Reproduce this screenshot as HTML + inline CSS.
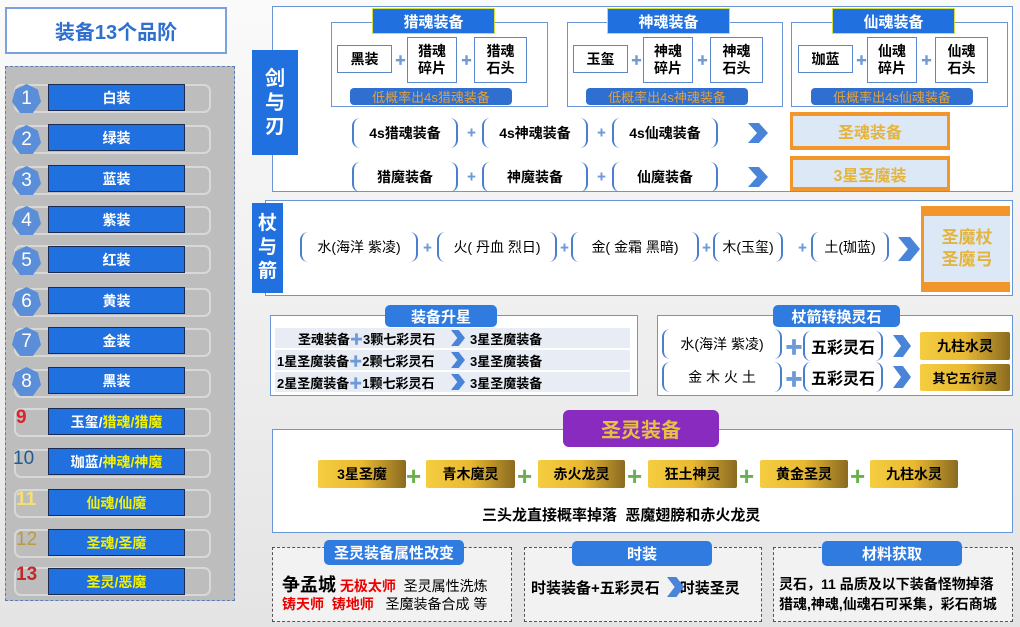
<!DOCTYPE html>
<html><head><meta charset="utf-8"><style>
*{margin:0;padding:0;box-sizing:border-box}
body{width:1020px;height:627px;position:relative;overflow:hidden;font-family:"Liberation Sans","Noto Sans CJK SC",sans-serif;background:linear-gradient(#fafafa,#e4e4e4)}
.a{position:absolute}
.c{display:flex;align-items:center;justify-content:center;text-align:center}
.bl{background:#2170e0;color:#fff;font-weight:bold}
.wb{background:#fff;border:1px solid #6a96d8}
.row{position:absolute;left:14px;width:197px;height:29px;border:2px solid #d8d8d8;border-radius:7px}
.bar{position:absolute;left:48px;width:137px;height:27px;background:#2170e0;border:1.5px solid #1a2a50;color:#fff;font-weight:bold;font-size:14px;display:flex;align-items:center;justify-content:center}
.hex{position:absolute;left:12px;width:29px;height:29px;background:#5b8ed8;color:#fff;font-size:19px;display:flex;align-items:center;justify-content:center;clip-path:polygon(50% 0,89% 19%,100% 61%,72% 100%,28% 100%,0 61%,11% 19%)}
.num{position:absolute;left:16px;font-size:19px;font-weight:bold}
.y{color:#f2f200}
.it{position:absolute;background:#fff;border:1px solid #5a86cc;font-size:14px;font-weight:bold;display:flex;align-items:center;justify-content:center;text-align:center;line-height:17px}
.pl{position:absolute;color:#6e9ad8;font-size:11px;font-weight:bold}
.br{position:absolute;height:30px;border-left:2px solid #4a7fd0;border-right:2px solid #4a7fd0;border-radius:8px;font-size:14px;display:flex;align-items:center;justify-content:center;font-weight:bold}
.chev{position:absolute;width:20px;height:20px;background:#4a84d8;clip-path:polygon(0 0,55% 0,100% 50%,55% 100%,0 100%,45% 50%)}
.gold{position:absolute;height:28px;background:linear-gradient(90deg,#f5cd40,#e9b932 50%,#8a6a20);font-size:14px;font-weight:bold;display:flex;align-items:center;justify-content:center;border-radius:2px}
.gp{position:absolute;color:#6ab04c;font-size:26px;font-weight:bold;line-height:20px}
.hd{position:absolute;background:#2f7be0;color:#fff;font-weight:bold;font-size:15px;display:flex;align-items:center;justify-content:center;border-radius:5px}
.dash{position:absolute;border:1.5px dashed #555;background:#f2f2f2}
</style></head><body>

<div class="a c" style="left:5px;top:7px;width:222px;height:47px;background:#fff;border:2px solid #7aa0e0;color:#2f6fd0;font-size:20px;font-weight:bold">装备13个品阶</div>
<div class="a" style="left:5px;top:66px;width:230px;height:535px;background:#bdbdbd;border:1px dashed #5a7ab8"></div>

<div class="row" style="top:84px"></div><div class="bar" style="top:84px">白装</div><div class="hex" style="top:84px">1</div>
<div class="row" style="top:125px"></div><div class="bar" style="top:124px">绿装</div><div class="hex" style="top:125px">2</div>
<div class="row" style="top:166px"></div><div class="bar" style="top:165px">蓝装</div><div class="hex" style="top:166px">3</div>
<div class="row" style="top:206px"></div><div class="bar" style="top:206px">紫装</div><div class="hex" style="top:206px">4</div>
<div class="row" style="top:245px"></div><div class="bar" style="top:246px">红装</div><div class="hex" style="top:246px">5</div>
<div class="row" style="top:288px"></div><div class="bar" style="top:287px">黄装</div><div class="hex" style="top:287px">6</div>
<div class="row" style="top:328px"></div><div class="bar" style="top:327px">金装</div><div class="hex" style="top:327px">7</div>
<div class="row" style="top:369px"></div><div class="bar" style="top:367px">黑装</div><div class="hex" style="top:367px">8</div>
<div class="row" style="top:408px"></div><div class="bar" style="top:408px">玉玺/<span class="y">猎魂/猎魔</span></div><div class="num" style="top:407px;color:#e0202a">9</div>
<div class="row" style="top:449px"></div><div class="bar" style="top:448px">珈蓝/<span class="y">神魂/神魔</span></div><div class="num" style="top:448px;color:#1f5a90;left:13px;font-weight:normal">10</div>
<div class="row" style="top:489px"></div><div class="bar" style="top:489px"><span class="y">仙魂/仙魔</span></div><div class="num" style="top:489px;color:#f8e070">11</div>
<div class="row" style="top:529px"></div><div class="bar" style="top:529px"><span class="y">圣魂/圣魔</span></div><div class="num" style="top:529px;color:#b89a40;font-weight:normal">12</div>
<div class="row" style="top:567px"></div><div class="bar" style="top:568px"><span class="y">圣灵/恶魔</span></div><div class="num" style="top:564px;color:#c0282a">13</div>

<!-- 剑与刃 -->
<div class="a" style="left:272px;top:6px;width:741px;height:186px;background:#fff;border:1.5px solid #6a96d8"></div>
<div class="a c bl" style="left:252px;top:50px;width:46px;height:105px;font-size:20px;line-height:24px">剑<br>与<br>刃</div>

<div class="a wb" style="left:331px;top:22px;width:217px;height:85px"></div>
<div class="a c bl" style="left:372px;top:8px;width:123px;height:26px;border:1px solid #d8e040;font-size:15px">猎魂装备</div>
<div class="it" style="left:337px;top:45px;width:55px;height:28px">黑装</div>
<div class="it" style="left:407px;top:37px;width:50px;height:46px">猎魂<br>碎片</div>
<div class="it" style="left:474px;top:37px;width:53px;height:46px">猎魂<br>石头</div>
<div class="pl" style="left:395px;top:52px">✚</div><div class="pl" style="left:461px;top:52px">✚</div>
<div class="a c" style="left:350px;top:88px;width:162px;height:17px;background:#2f6fd0;border-radius:4px;color:#e0a040;font-size:13px">低概率出4s猎魂装备</div>

<div class="a wb" style="left:567px;top:22px;width:216px;height:85px"></div>
<div class="a c bl" style="left:607px;top:8px;width:123px;height:26px;border:1px solid #d8e040;font-size:15px">神魂装备</div>
<div class="it" style="left:573px;top:45px;width:55px;height:28px">玉玺</div>
<div class="it" style="left:643px;top:37px;width:50px;height:46px">神魂<br>碎片</div>
<div class="it" style="left:710px;top:37px;width:53px;height:46px">神魂<br>石头</div>
<div class="pl" style="left:631px;top:52px">✚</div><div class="pl" style="left:697px;top:52px">✚</div>
<div class="a c" style="left:586px;top:88px;width:162px;height:17px;background:#2f6fd0;border-radius:4px;color:#e0a040;font-size:13px">低概率出4s神魂装备</div>

<div class="a wb" style="left:791px;top:22px;width:217px;height:85px"></div>
<div class="a c bl" style="left:832px;top:8px;width:123px;height:26px;border:1px solid #d8e040;font-size:15px">仙魂装备</div>
<div class="it" style="left:798px;top:45px;width:55px;height:28px">珈蓝</div>
<div class="it" style="left:867px;top:37px;width:50px;height:46px">仙魂<br>碎片</div>
<div class="it" style="left:935px;top:37px;width:53px;height:46px">仙魂<br>石头</div>
<div class="pl" style="left:856px;top:52px">✚</div><div class="pl" style="left:921px;top:52px">✚</div>
<div class="a c" style="left:811px;top:88px;width:162px;height:17px;background:#2f6fd0;border-radius:4px;color:#e0a040;font-size:13px">低概率出4s仙魂装备</div>

<div class="br" style="left:352px;top:118px;width:106px">4s猎魂装备</div>
<div class="br" style="left:482px;top:118px;width:106px">4s神魂装备</div>
<div class="br" style="left:612px;top:118px;width:106px">4s仙魂装备</div>
<div class="br" style="left:352px;top:162px;width:106px">猎魔装备</div>
<div class="br" style="left:482px;top:162px;width:106px">神魔装备</div>
<div class="br" style="left:612px;top:162px;width:106px">仙魔装备</div>
<div class="pl" style="left:467px;top:126px;font-size:9px">✚</div><div class="pl" style="left:597px;top:126px;font-size:9px">✚</div>
<div class="pl" style="left:467px;top:170px;font-size:9px">✚</div><div class="pl" style="left:597px;top:170px;font-size:9px">✚</div>
<div class="chev" style="left:748px;top:123px"></div><div class="chev" style="left:748px;top:167px"></div>
<div class="a c" style="left:790px;top:112px;width:160px;height:38px;background:#dde8f6;border:3px solid #f0962a;border-top-width:4px;border-bottom-width:4px;color:#e3b440;font-size:16px;font-weight:bold">圣魂装备</div>
<div class="a c" style="left:790px;top:156px;width:160px;height:35px;background:#dde8f6;border:3px solid #f0962a;border-top-width:4px;border-bottom-width:4px;color:#e3b440;font-size:16px;font-weight:bold">3星圣魔装</div>

<!-- 杖与箭 -->
<div class="a" style="left:265px;top:200px;width:748px;height:96px;background:#fff;border:1.5px solid #6a96d8"></div>
<div class="a c bl" style="left:252px;top:203px;width:31px;height:90px;font-size:19px;line-height:24px">杖<br>与<br>箭</div>
<div class="br" style="left:300px;top:232px;width:118px;font-weight:normal">水(海洋 紫凌)</div>
<div class="br" style="left:437px;top:232px;width:120px;font-weight:normal">火( 丹血 烈日)</div>
<div class="br" style="left:571px;top:232px;width:128px;font-weight:normal">金( 金霜 黑暗)</div>
<div class="br" style="left:713px;top:232px;width:70px;font-weight:normal">木(玉玺)</div>
<div class="br" style="left:811px;top:232px;width:78px;font-weight:normal">土(珈蓝)</div>
<div class="pl" style="left:423px;top:241px;font-size:9px">✚</div><div class="pl" style="left:560px;top:241px;font-size:9px">✚</div><div class="pl" style="left:702px;top:241px;font-size:9px">✚</div><div class="pl" style="left:798px;top:241px;font-size:9px">✚</div>
<div class="chev" style="left:898px;top:237px;width:22px;height:24px"></div>
<div class="a c" style="left:921px;top:206px;width:89px;height:86px;background:#dde8f6;border:4px solid #f0962a;border-top-width:10px;border-bottom-width:10px;border-left-width:3px;border-right:none;color:#e3b440;font-size:17px;font-weight:bold;line-height:22px">圣魔杖<br>圣魔弓</div>

<!-- 装备升星 -->
<div class="a" style="left:270px;top:315px;width:368px;height:81px;background:#fff;border:1.5px solid #6a96d8"></div>
<div class="hd" style="left:385px;top:305px;width:112px;height:22px">装备升星</div>
<div class="a" style="left:275px;top:328px;width:355px;height:20px;background:#e8ecf4"></div>
<div class="a" style="left:275px;top:350px;width:355px;height:20px;background:#e8ecf4"></div>
<div class="a" style="left:275px;top:372px;width:355px;height:20px;background:#e8ecf4"></div>
<div class="a" style="left:298px;top:329px;font-size:13px;font-weight:bold">圣魂装备<span style="color:#6e9ad8">✚</span>3颗七彩灵石</div>
<div class="a" style="left:277px;top:351px;font-size:13px;font-weight:bold">1星圣魔装备<span style="color:#6e9ad8">✚</span>2颗七彩灵石</div>
<div class="a" style="left:277px;top:373px;font-size:13px;font-weight:bold">2星圣魔装备<span style="color:#6e9ad8">✚</span>1颗七彩灵石</div>
<div class="chev" style="left:451px;top:330px;width:14px;height:16px"></div>
<div class="chev" style="left:451px;top:352px;width:14px;height:16px"></div>
<div class="chev" style="left:451px;top:374px;width:14px;height:16px"></div>
<div class="a" style="left:470px;top:329px;font-size:13px;font-weight:bold">3星圣魔装备</div>
<div class="a" style="left:470px;top:351px;font-size:13px;font-weight:bold">3星圣魔装备</div>
<div class="a" style="left:470px;top:373px;font-size:13px;font-weight:bold">3星圣魔装备</div>

<!-- 杖箭转换灵石 -->
<div class="a" style="left:657px;top:315px;width:356px;height:81px;background:#fff;border:1.5px solid #6a96d8"></div>
<div class="hd" style="left:773px;top:305px;width:127px;height:22px">杖箭转换灵石</div>
<div class="br" style="left:662px;top:329px;width:120px;font-weight:normal">水(海洋 紫凌)</div>
<div class="br" style="left:662px;top:362px;width:120px;font-weight:normal">金 木 火 土</div>
<div class="pl" style="left:785px;top:334px;font-size:18px">✚</div><div class="pl" style="left:785px;top:366px;font-size:18px">✚</div>
<div class="br" style="left:803px;top:331px;width:80px;font-size:16px">五彩灵石</div>
<div class="br" style="left:803px;top:362px;width:80px;font-size:16px">五彩灵石</div>
<div class="chev" style="left:893px;top:335px;width:18px;height:22px"></div>
<div class="chev" style="left:893px;top:366px;width:18px;height:22px"></div>
<div class="gold" style="left:920px;top:332px;width:90px;height:28px">九柱水灵</div>
<div class="gold" style="left:920px;top:364px;width:90px;height:27px;font-size:13px">其它五行灵</div>

<!-- 圣灵装备 -->
<div class="a" style="left:272px;top:429px;width:741px;height:104px;background:#fff;border:1.5px solid #6a96d8"></div>
<div class="a c" style="left:563px;top:410px;width:156px;height:37px;background:#8a2bc0;border-radius:6px;color:#e8c040;font-size:20px;font-weight:bold">圣灵装备</div>
<div class="gold" style="left:318px;top:460px;width:88px">3星圣魔</div>
<div class="gold" style="left:426px;top:460px;width:89px">青木魔灵</div>
<div class="gold" style="left:538px;top:460px;width:87px">赤火龙灵</div>
<div class="gold" style="left:648px;top:460px;width:89px">狂土神灵</div>
<div class="gold" style="left:760px;top:460px;width:88px">黄金圣灵</div>
<div class="gold" style="left:870px;top:460px;width:88px">九柱水灵</div>
<div class="gp" style="left:406px;top:466px">+</div><div class="gp" style="left:517px;top:466px">+</div><div class="gp" style="left:627px;top:466px">+</div><div class="gp" style="left:739px;top:466px">+</div><div class="gp" style="left:850px;top:466px">+</div>
<div class="a" style="left:482px;top:504px;font-size:15px;font-weight:bold">三头龙直接概率掉落&nbsp;&nbsp;恶魔翅膀和赤火龙灵</div>

<!-- bottom -->
<div class="dash" style="left:272px;top:547px;width:240px;height:75px"></div>
<div class="hd" style="left:324px;top:540px;width:140px;height:25px">圣灵装备属性改变</div>
<div class="a" style="left:282px;top:571px;font-size:14px;white-space:nowrap"><b style="font-size:18px">争孟城</b> <b style="color:#e00">无极太师</b>&nbsp; 圣灵属性洗炼</div>
<div class="a" style="left:282px;top:594px;font-size:14px;white-space:nowrap"><b style="color:#e00">铸天师&nbsp; 铸地师</b>&nbsp;&nbsp; 圣魔装备合成 等</div>

<div class="dash" style="left:524px;top:547px;width:238px;height:75px"></div>
<div class="hd" style="left:572px;top:541px;width:140px;height:25px">时装</div>
<div class="a" style="left:531px;top:577px;font-size:15px;font-weight:bold;white-space:nowrap">时装装备+五彩灵石<span style="display:inline-block;width:20px"></span>时装圣灵</div>
<div class="chev" style="left:667px;top:577px;width:17px;height:20px"></div>

<div class="dash" style="left:773px;top:547px;width:240px;height:75px"></div>
<div class="hd" style="left:822px;top:541px;width:140px;height:25px">材料获取</div>
<div class="a" style="left:779px;top:574px;font-size:14px;font-weight:bold;white-space:nowrap;line-height:20px">灵石，11 品质及以下装备怪物掉落<br>猎魂,神魂,仙魂石可采集，彩石商城</div>
</body></html>
